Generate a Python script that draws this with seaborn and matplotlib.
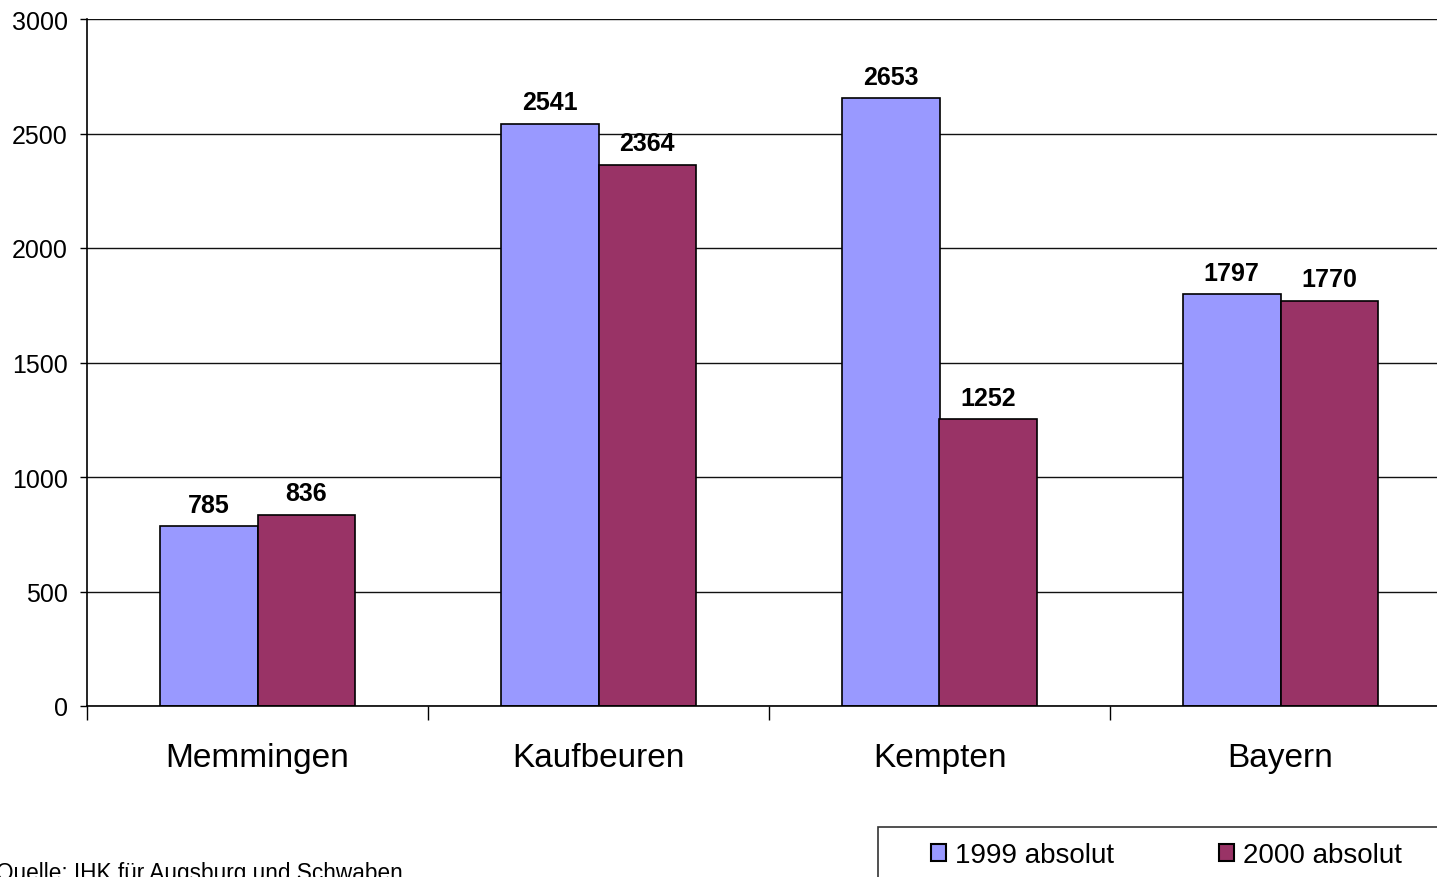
import pandas as pd
import matplotlib.pyplot as plt
import seaborn as sns

# === DATA ===
regions = ["Memmingen", "Kaufbeuren", "Kempten", "Bayern"]
series_names = ["1999 absolut", "2000 absolut"]
values_1999 = [785, 2541, 2653, 1797]
values_2000 = [836, 2364, 1252, 1770]
y_ticks = [0, 500, 1000, 1500, 2000, 2500, 3000]
source_text = "Quelle: IHK für Augsburg und Schwaben"

colors = ["#9999FF", "#993366"]

df = pd.DataFrame({
    "Region": regions * 2,
    "Serie": [series_names[0]] * 4 + [series_names[1]] * 4,
    "Wert": values_1999 + values_2000,
})

# === PLOT ===
sns.set_theme(style="white", rc={"text.color": "black", "xtick.color": "black",
                                 "ytick.color": "black", "axes.labelcolor": "black"})
plt.rcParams["font.family"] = ["Liberation Sans", "DejaVu Sans"]

W, H = 1437, 878
fig = plt.figure(figsize=(W / 100, H / 100), dpi=100)
ax = fig.add_axes([87 / W, (H - 707) / H, 1364 / W, 687 / H])

sns.barplot(data=df, x="Region", y="Wert", hue="Serie", palette=colors,
            width=0.572, gap=0, edgecolor="black", linewidth=1.2,
            saturation=1, legend=False, ax=ax)

for cont in ax.containers:
    ax.bar_label(cont, fmt="%d", padding=7, fontsize=18, fontweight="bold")

ax.set_ylim(0, 3000)
ax.set_xlim(-0.5, 3.5)
ax.set_yticks(y_ticks)
ax.set_yticklabels([str(t) for t in y_ticks], fontsize=18)
ax.set_xlabel("")
ax.set_ylabel("")

# gridlines
ax.yaxis.grid(True, color="#111111", linewidth=1)
ax.set_axisbelow(True)

for s in ["top", "right"]:
    ax.spines[s].set_visible(False)
for s in ["left", "bottom"]:
    ax.spines[s].set_color("black")
    ax.spines[s].set_linewidth(1.2)

ax.tick_params(axis="y", which="major", direction="out", length=5, width=1, color="black", pad=9, left=True)
ax.set_xticks(range(len(regions)))
ax.set_xticklabels(regions, fontsize=24)
ax.tick_params(axis="x", which="major", length=0, pad=26)
ax.set_xticks([0.5, 1.5, 2.5, -0.5], minor=True)
ax.tick_params(axis="x", which="minor", direction="out", length=10, width=1, color="black", bottom=True)

# legend box (runs past right and bottom edge)
frame = plt.Rectangle((878 / W, -0.1), 0.6, 0.1 + (H - 828) / H, transform=fig.transFigure,
                      facecolor="white", edgecolor="#333333", linewidth=1.2)
fig.patches.append(frame)

handles = [plt.Rectangle((0, 0), 1, 1, facecolor=c, edgecolor="black", linewidth=1.5) for c in colors]
fig.legend(handles, series_names, loc="center left",
           bbox_to_anchor=(931 / W, 1 - 856 / H), ncol=2, fontsize=20,
           frameon=False, handlelength=0.55, handleheight=0.55, handletextpad=0.3,
           columnspacing=3.8, borderpad=0, borderaxespad=0)

fig.text(-0.003, 1 - 862 / H, source_text, fontsize=16.3, va="top", ha="left")

fig.savefig("out.png", dpi=100)
